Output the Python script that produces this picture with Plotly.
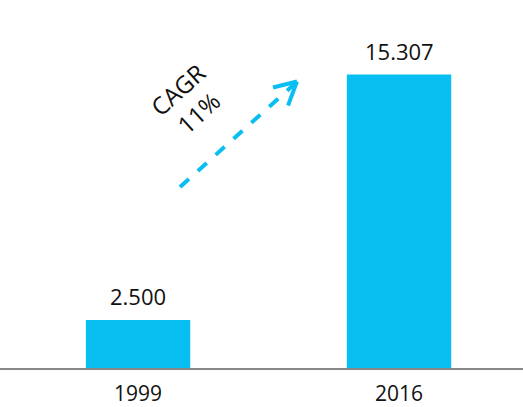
import plotly.graph_objects as go

years = ["1999", "2016"]
values = [2.5, 15.307]
value_labels = ["2.500", "15.307"]
cagr_text = "CAGR<br>11%"

BLUE = "#09BEF0"
FONT = "Open Sans"

W, H = 523, 407
PLOT_H = 370  # px of plot area (t=0, b=37)

def px(xp, yp):
    return xp / W, (PLOT_H - yp) / PLOT_H

xpos = list(range(len(years)))

fig = go.Figure()
fig.add_trace(go.Bar(
    x=xpos, y=values, width=0.4, marker=dict(color=BLUE, line=dict(width=0)),
    hoverinfo="skip",
))

for xi, v, lab in zip(xpos, values, value_labels):
    fig.add_annotation(x=xi, y=v, text=lab, showarrow=False, yanchor="bottom",
                       yshift=7, font=dict(family=FONT, size=22, color="#111"))

# dashed arrow (decoration) in paper coords
x0, y0 = px(180, 188)
x1, y1 = px(295, 84)
fig.add_shape(type="line", xref="paper", yref="paper", x0=x0, y0=y0, x1=x1, y1=y1,
              line=dict(color=BLUE, width=4, dash="dash"))
for ax, ay in [(273, 88), (288, 106)]:
    a0, b0 = px(ax, ay)
    tx, ty = px(297, 82)
    fig.add_shape(type="line", xref="paper", yref="paper", x0=a0, y0=b0, x1=tx, y1=ty,
                  line=dict(color=BLUE, width=4))

cx, cy = px(188, 102)
fig.add_annotation(xref="paper", yref="paper", x=cx, y=cy, text=cagr_text, showarrow=False,
                   textangle=-42, font=dict(family=FONT, size=24, color="#111"),
                   xanchor="center", yanchor="middle")

fig.update_layout(
    width=W, height=H, margin=dict(l=0, r=0, t=0, b=37),
    plot_bgcolor="white", paper_bgcolor="white", showlegend=False,
    xaxis=dict(range=[-0.529, 1.475], tickvals=xpos, ticktext=years, showgrid=False,
               zeroline=False, showline=True, linecolor="#888", linewidth=2,
               ticks="", ticklabelstandoff=6,
               tickfont=dict(family=FONT, size=21, color="#111"), fixedrange=True),
    yaxis=dict(range=[0, 19.2], visible=False, fixedrange=True),
)

fig.write_html("out.html", config={"displayModeBar": False},
               post_script="document.body.style.margin='0';document.body.style.overflow='hidden';")
